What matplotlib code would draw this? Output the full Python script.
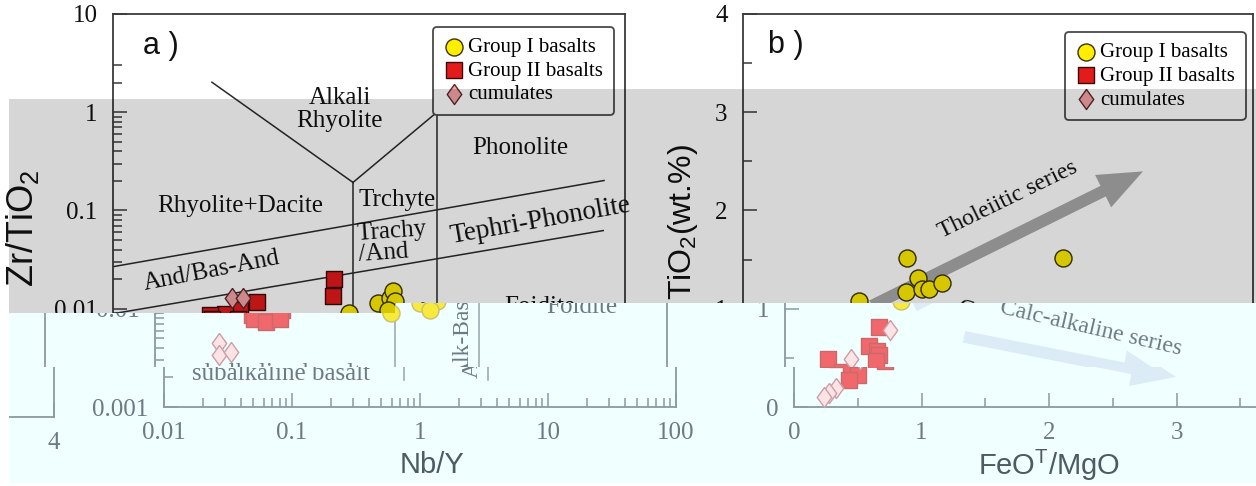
import matplotlib
matplotlib.use("Agg")
import matplotlib.pyplot as plt
from matplotlib.patches import Polygon, Rectangle, FancyArrowPatch, ArrowStyle
from matplotlib.ticker import NullFormatter
from matplotlib.transforms import Bbox, TransformedBbox

plt.rcParams['font.family'] = ['Liberation Serif', 'DejaVu Serif']
plt.rcParams['mathtext.fontset'] = 'custom'
plt.rcParams['mathtext.rm'] = 'Liberation Sans'
plt.rcParams['mathtext.it'] = 'Liberation Sans:italic'

W, H = 1256, 486
SANS = 'Liberation Sans'

# ---- panel a: Nb/Y vs Zr/TiO2 ----
a_g1_x = [0.698, 1.175, 1.459, 1.54, 1.597, 1.406]
a_g1_y = [0.0091, 0.0115, 0.0130, 0.0153, 0.0121, 0.0096]
a_g2_x = [0.533, 0.524, 0.133, 0.098, 0.075, 0.057, 0.059, 0.074, 0.095]
a_g2_y = [0.0202, 0.0136, 0.0118, 0.0098, 0.0089, 0.0087, 0.0079, 0.0074, 0.0079]
a_cu_x = [0.085, 0.104, 0.0316, 0.0316, 0.0393]
a_cu_y = [0.0130, 0.0130, 0.0045, 0.0034, 0.0036]

# field boundaries (Nb/Y, Zr/TiO2)
a_bounds = [
    ([0.0593, 0.75], [2.02, 0.193]),
    ([0.75, 3.39], [0.193, 1.0]),
    ([0.75, 0.75], [0.193, 0.0019]),
    ([3.39, 3.39], [1.0, 0.0019]),
    ([0.01, 68.6], [0.0268, 0.202]),
    ([0.01, 67.6], [0.0089, 0.0625]),
]

a_xticks = [0.01, 0.1, 1, 10, 100]
a_xticklabels = ['0.01', '0.1', '1', '10', '100']
a_xminor = [k * 10.0 ** e for e in range(-2, 2) for k in range(2, 10)]
a_yticks = [0.001, 0.01, 0.1, 1, 10]
a_yticklabels = ['0.001', '0.01', '0.1', '1', '10']
a_yminor = [k * 10.0 ** e for e in range(-3, 0) for k in range(2, 10)] + [2, 3]

# ---- panel b: FeOT/MgO vs TiO2 ----
b_g1_x = [1.286, 1.373, 1.278, 1.404, 1.459, 1.561, 0.910, 2.51]
b_g1_y = [1.520, 1.316, 1.173, 1.204, 1.204, 1.265, 1.082, 1.520]
b_g2_x = [0.741, 0.656, 0.722, 0.741, 0.714, 0.337, 0.444, 0.501, 0.430]
b_g2_y = [0.816, 0.622, 0.571, 0.531, 0.469, 0.490, 0.357, 0.327, 0.276]
b_cu_x = [0.820, 0.515, 0.331, 0.275, 0.232]
b_cu_y = [0.786, 0.490, 0.194, 0.143, 0.102]

b_ticks = [0, 1, 2, 3, 4]
b_ticklabels = ['0', '1', '2', '3', '4']
b_minor = [0.5, 1.5, 2.5, 3.5]

labels = ['Group I basalts', 'Group II basalts', 'cumulates']

DIAMOND = [(0, 1), (0.72, 0), (0, -1), (-0.72, 0), (0, 1)]

TOP = dict(txt='#111111', lab='#111111', spine='#3a3a3a', line='#2a2a2a',
           g1='#ffee00', g1e='#3a3300', g2='#e31b1b', g2e='#3a0a0a',
           cu='#f5a3a6', cue='#5a2a2a', arrow='#a8a8a8')
BAND = dict(txt='#6d7a84', lab='#4e5a64', spine='#8d99a2', line='#98a4ac',
            g1='#f7ea3c', g1e='#c9c070', g2='#f0686c', g2e='#c86a6a',
            cu='#fde3e6', cue='#c8a0a6', arrow='#dcecf7')


def fig_box(l, t, r, b):
    return [l / W, 1 - b / H, (r - l) / W, (b - t) / H]


def style_axes(ax, st):
    ax.set_facecolor('none')
    for s in ax.spines.values():
        s.set_color(st['spine'])
        s.set_linewidth(1.3)
    ax.tick_params(which='both', direction='in', top=False, right=False,
                   color=st['spine'], labelcolor=st['txt'], labelsize=18,
                   pad=11, width=1.1)
    ax.tick_params(which='major', length=10)
    ax.tick_params(which='minor', length=6.5)


def draw_set(fig, dx, dy, st, z, with_legend):
    axa = fig.add_axes(fig_box(113 + dx, 14 + dy, 625 + dx, 407 + dy), zorder=z)
    axb = fig.add_axes(fig_box(743 + dx, 14 + dy, 1253 + dx, 407 + dy), zorder=z)
    style_axes(axa, st)
    style_axes(axb, st)

    # a) Zr/TiO2 vs Nb/Y
    axa.set_xscale('log')
    axa.set_yscale('log')
    axa.set_xlim(0.01, 100)
    axa.set_ylim(0.001, 10)
    axa.set_xticks(a_xticks)
    axa.set_xticklabels(a_xticklabels)
    axa.set_xticks(a_xminor, minor=True)
    axa.set_yticks(a_yticks)
    axa.set_yticklabels(a_yticklabels)
    axa.set_yticks(a_yminor, minor=True)
    axa.xaxis.set_minor_formatter(NullFormatter())
    axa.yaxis.set_minor_formatter(NullFormatter())

    for xs, ys in a_bounds:
        axa.plot(xs, ys, color=st['line'], lw=1.1, zorder=1)

    tk = dict(color=st['txt'], fontsize=18, ha='center', va='center',
              rotation_mode='anchor')
    axa.text(0.593, 1.07, 'Alkali\nRhyolite', linespacing=1.05, **tk)
    axa.text(15.1, 0.43, 'Phonolite', **tk)
    axa.text(0.0982, 0.110, 'Rhyolite+Dacite', **tk)
    axa.text(1.65, 0.129, 'Trchyte', **tk)
    axa.text(0.82, 0.045, 'Trachy\n/And', color=st['txt'], fontsize=18,
             ha='left', va='center', rotation=4, rotation_mode='anchor',
             linespacing=0.95)
    axa.text(21.7, 0.078, 'Tephri-Phonolite', rotation=10, color=st['txt'],
             fontsize=19.5, ha='center', va='center', rotation_mode='anchor')
    axa.text(0.0593, 0.0244, 'And/Bas-And', rotation=11, **tk)
    axa.text(21.7, 0.0105, 'Foidite', **tk)
    axa.text(2.55, 0.00494, 'Alk-Bas', rotation=90, color=st['txt'],
             fontsize=17, ha='center', va='center', rotation_mode='anchor')
    axa.text(0.082, 0.00217, 'subalkaline basalt', **tk)

    h1 = axa.scatter(a_g1_x, a_g1_y, s=150, c=st['g1'], edgecolors=st['g1e'],
                     linewidths=1.0, zorder=3)
    h2 = axa.scatter(a_g2_x, a_g2_y, s=130, marker='s', c=st['g2'],
                     edgecolors=st['g2e'], linewidths=1.0, zorder=3)
    h3 = axa.scatter(a_cu_x, a_cu_y, s=210, marker=DIAMOND, c=st['cu'],
                     edgecolors=st['cue'], linewidths=1.0, zorder=4)

    axa.text(0.059, 0.919, 'a )', transform=axa.transAxes, fontsize=22,
             family=SANS, color=st['lab'], ha='left', va='center')
    axa.text(0.523, -0.148, 'Nb/Y', transform=axa.transAxes, fontsize=21,
             family=SANS, color=st['lab'], ha='center', va='center')
    axa.text(-0.176, 0.455, r'Zr/TiO$_2$', transform=axa.transAxes, fontsize=26,
             family=SANS, color=st['lab'], ha='center', va='center', rotation=90)

    # b) TiO2 vs FeOT/MgO
    axb.set_xlim(0, 4)
    axb.set_ylim(0, 4)
    axb.set_xticks(b_ticks)
    axb.set_xticklabels(b_ticklabels)
    axb.set_xticks(b_minor, minor=True)
    axb.set_yticks(b_ticks)
    axb.set_yticklabels(b_ticklabels)
    axb.set_yticks(b_minor, minor=True)

    arr = ArrowStyle('Simple', head_length=3.2, head_width=2.6, tail_width=0.85)
    axb.add_patch(FancyArrowPatch((1.012, 1.031), (3.137, 2.398), arrowstyle=arr,
                                  mutation_scale=10, color=st['arrow'], lw=0,
                                  shrinkA=0, shrinkB=0, zorder=1))
    axb.add_patch(FancyArrowPatch((1.404, 0.714), (2.996, 0.306), arrowstyle=arr,
                                  mutation_scale=10, color=st['arrow'], lw=0,
                                  shrinkA=0, shrinkB=0, zorder=1))
    axb.text(2.078, 2.112, 'Tholeiitic series', rotation=26, color=st['txt'],
             fontsize=17, ha='center', va='center', rotation_mode='anchor')
    axb.text(2.40, 0.796, 'Calc-alkaline series', rotation=-13, color=st['txt'],
             fontsize=17, ha='center', va='center', rotation_mode='anchor')

    axb.scatter(b_g1_x, b_g1_y, s=150, c=st['g1'], edgecolors=st['g1e'],
                linewidths=1.0, zorder=3)
    axb.scatter(b_g2_x, b_g2_y, s=130, marker='s', c=st['g2'],
                edgecolors=st['g2e'], linewidths=1.0, zorder=3)
    axb.scatter(b_cu_x, b_cu_y, s=210, marker=DIAMOND, c=st['cu'],
                edgecolors=st['cue'], linewidths=1.0, zorder=4)

    axb.text(0.049, 0.921, 'b )', transform=axb.transAxes, fontsize=22,
             family=SANS, color=st['lab'], ha='left', va='center')
    axb.text(0.5, -0.148, r'FeO$^\mathrm{T}$/MgO', transform=axb.transAxes,
             fontsize=21, family=SANS, color=st['lab'], ha='center', va='center')
    axb.text(-0.118, 0.471, r'TiO$_2$(wt.%)', transform=axb.transAxes,
             fontsize=23, family=SANS, color=st['lab'], ha='center',
             va='center', rotation=90)

    if with_legend:
        for ax, anchor in ((axa, (0.625, 0.967)), (axb, (0.631, 0.954))):
            leg = ax.legend([h1, h2, h3], labels, loc='upper left',
                            bbox_to_anchor=anchor, prop={'size': 15},
                            frameon=True, fancybox=True, edgecolor='#4a4a4a',
                            facecolor='white', framealpha=1, borderpad=0.5,
                            labelspacing=0.2, handletextpad=0.2,
                            handlelength=1.0, borderaxespad=0, scatterpoints=1)
            leg.get_frame().set_linewidth(1.3)
    return axa, axb


def clip_axes(ax, box):
    # Agg only clips text with rectangles, so everything gets a clip box
    arts = list(ax.get_children())
    for axis in (ax.xaxis, ax.yaxis):
        arts.append(axis.label)
        for t in axis.get_major_ticks() + axis.get_minor_ticks():
            arts += [t.tick1line, t.tick2line, t.label1, t.label2, t.gridline]
    for a in arts:
        a.set_clip_on(True)
        a.set_clip_path(None)
        a.set_clip_box(box)


fig = plt.figure(figsize=(W / 100, H / 100), dpi=100)
fig.patch.set_facecolor('white')

draw_set(fig, 0, 0, TOP, 0, True)

# grey band over the upper part
for l, t, r in ((9, 99, 433), (433, 89, 1256)):
    fig.add_artist(Rectangle((l / W, 1 - 313 / H), (r - l) / W, (313 - t) / H,
                             transform=fig.transFigure, facecolor='black',
                             alpha=0.16, lw=0, zorder=3))

# light cyan band over the lower part
cyan = [(9, 313), (395, 313), (395, 303), (1256, 303), (1256, 483), (9, 483)]
fig.add_artist(Polygon([(x / W, 1 - y / H) for x, y in cyan], closed=True,
                       transform=fig.transFigure, facecolor='#f0ffff', lw=0,
                       zorder=4))

# strips inside the cyan band: (left, top, right, bottom, shift)
strips = [(9, 313, 395, 367, 42), (395, 303, 1256, 367, 42), (9, 367, 1256, 483, 51)]
for l, t, r, b, dx in strips:
    box = TransformedBbox(Bbox.from_extents(l / W, 1 - b / H, r / W, 1 - t / H),
                          fig.transFigure)
    for sdx, sdy in ((dx, 0), (dx - 1250, 10)):
        for ax in draw_set(fig, sdx, sdy, BAND, 5, False):
            clip_axes(ax, box)

fig.savefig('out.png', dpi=100)
